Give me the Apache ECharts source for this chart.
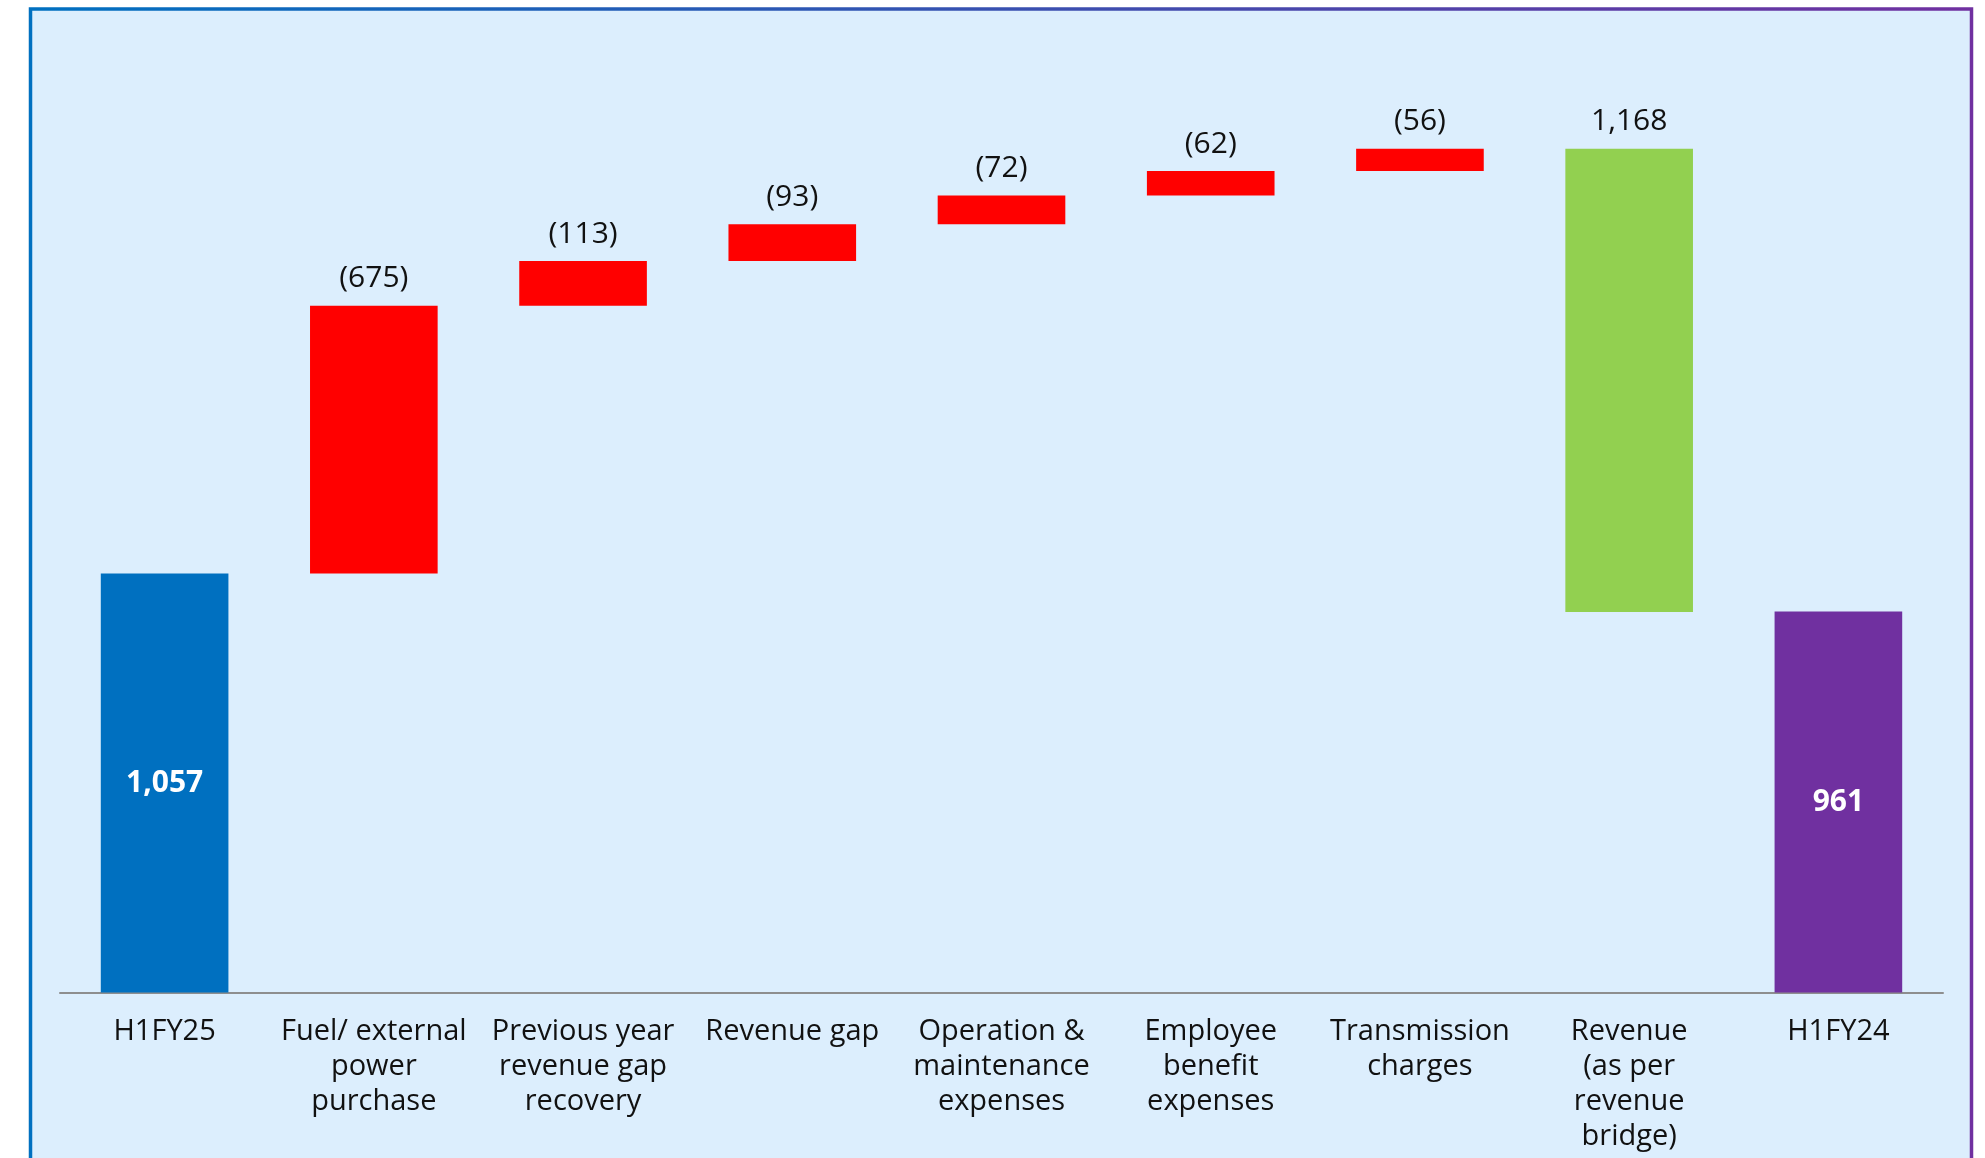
<!DOCTYPE html>
<html>
<head>
<meta charset="utf-8">
<script src="https://cdn.jsdelivr.net/npm/echarts@6/dist/echarts.min.js"></script>
<style>
  html, body { margin: 0; padding: 0; background: #ffffff; }
  #chart { width: 1985px; height: 1158px; }
</style>
</head>
<body>
<div id="chart"></div>
<script>
// Bridge categories, left to right
const categories = [
  'H1FY25',
  'Fuel/ external\npower\npurchase',
  'Previous year\nrevenue gap\nrecovery',
  'Revenue gap',
  'Operation &\nmaintenance\nexpenses',
  'Employee\nbenefit\nexpenses',
  'Transmission\ncharges',
  'Revenue\n(as per\nrevenue\nbridge)',
  'H1FY24'
];
// Opening and closing totals
const openingValue = 1057;
const closingValue = 961;
// Cost steps (shown in brackets), each stacked on top of the running total
const costSteps = [675, 113, 93, 72, 62, 56];
// Revenue step, brought down from the running total
const revenueStep = 1168;

const COLORS = { open: '#0070C0', cost: '#FF0000', revenue: '#92D050', close: '#7030A0' };
const FONT = "'Open Sans', 'Noto Sans', sans-serif";

// Build invisible base + visible bar for each column
const baseData = [];
const barData = [];
const labelText = [];

baseData.push(0);
barData.push({ value: openingValue, itemStyle: { color: COLORS.open },
  label: { position: 'inside', color: '#ffffff', fontWeight: 'bold' } });
labelText.push(openingValue.toLocaleString('en-US'));

let running = openingValue;
costSteps.forEach(v => {
  baseData.push(running);
  barData.push({ value: v, itemStyle: { color: COLORS.cost } });
  labelText.push('(' + v.toLocaleString('en-US') + ')');
  running += v;
});

baseData.push(running - revenueStep);
barData.push({ value: revenueStep, itemStyle: { color: COLORS.revenue } });
labelText.push(revenueStep.toLocaleString('en-US'));

baseData.push(0);
barData.push({ value: closingValue, itemStyle: { color: COLORS.close },
  label: { position: 'inside', color: '#ffffff', fontWeight: 'bold' } });
labelText.push(closingValue.toLocaleString('en-US'));

const chart = echarts.init(document.getElementById('chart'), null, { renderer: 'canvas' });

chart.setOption({
  backgroundColor: '#ffffff',
  animation: false,
  graphic: [{
    type: 'rect',
    z: -10,
    silent: true,
    shape: { x: 30.5, y: 9, width: 1941, height: 1200 },
    style: {
      fill: '#DCEEFD',
      lineWidth: 3.5,
      stroke: {
        type: 'linear', x: 0, y: 0, x2: 1, y2: 0,
        colorStops: [
          { offset: 0, color: '#0070C0' },
          { offset: 1, color: '#7030A0' }
        ]
      }
    }
  }],
  grid: { left: 60, right: 42, top: 41, bottom: 165.5, containLabel: false },
  xAxis: {
    type: 'category',
    data: categories,
    axisLine: { show: true, lineStyle: { color: '#8E8E8E', width: 2 } },
    axisTick: { show: false },
    axisLabel: {
      interval: 0,
      margin: 22,
      fontFamily: FONT,
      fontSize: 29,
      lineHeight: 35,
      color: '#111111',
      align: 'center'
    }
  },
  yAxis: {
    type: 'value',
    min: 0,
    max: 2400,
    show: false,
    splitLine: { show: false }
  },
  series: [
    {
      name: 'base',
      type: 'bar',
      stack: 'bridge',
      barWidth: '61%',
      itemStyle: { color: 'transparent' },
      emphasis: { disabled: true },
      data: baseData
    },
    {
      name: 'value',
      type: 'bar',
      stack: 'bridge',
      barWidth: '61%',
      data: barData,
      label: {
        show: true,
        position: 'top',
        distance: 12,
        fontFamily: FONT,
        fontSize: 30,
        color: '#111111',
        formatter: p => labelText[p.dataIndex]
      }
    }
  ]
});
</script>
</body>
</html>
